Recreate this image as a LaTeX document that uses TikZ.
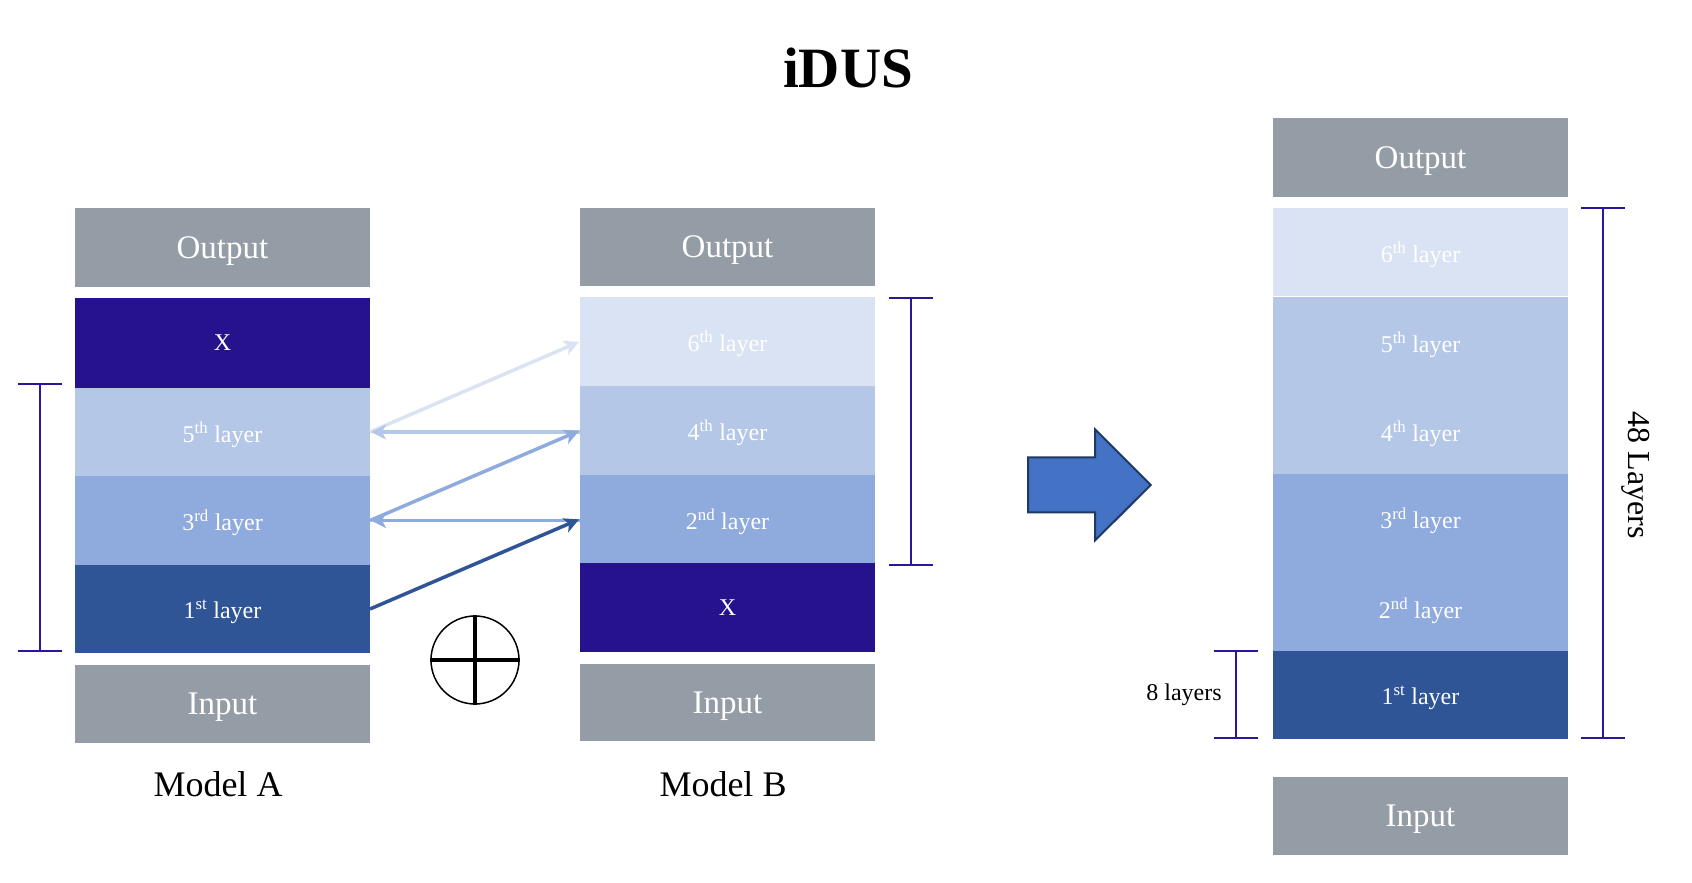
\documentclass[tikz,border=0pt]{standalone}
\usepackage{fontspec}
\setmainfont{Liberation Serif}
\usetikzlibrary{arrows.meta}
\definecolor{boxgray}{HTML}{949DA6}
\definecolor{xblue}{HTML}{25128C}
\definecolor{lsix}{HTML}{DAE3F3}
\definecolor{lfive}{HTML}{B4C7E7}
\definecolor{lthree}{HTML}{8FAADC}
\definecolor{lone}{HTML}{2F5597}
\definecolor{brk}{HTML}{2A1699}
\definecolor{bigarrow}{HTML}{4472C4}
\definecolor{bigarrowline}{HTML}{1F3864}
\begin{document}
\begin{tikzpicture}[x=1pt,y=-1pt,
  blk/.style={rectangle, inner sep=0pt, outer sep=0pt, minimum width=295pt, text=white, text depth=0pt, font=\fontsize{24}{28}\selectfont},
  io/.style={blk, fill=boxgray, font=\fontsize{33}{38}\selectfont},
  ltxt/.style={inner sep=0pt, text=white, text depth=0pt, font=\fontsize{24}{28}\selectfont},
  conn/.style={line width=3.5pt, -{Stealth[length=15pt,width=15pt,inset=4pt]}, shorten >=1pt},
  brkline/.style={draw=brk, line width=2pt},
  lbl/.style={font=\fontsize{36}{40}\selectfont, inner sep=0pt}
]
\useasboundingbox (0,0) rectangle (1692,883);

% title
\node[font=\fontsize{57}{60}\selectfont\bfseries, inner sep=0pt, text depth=0pt] (title) at (848,68) {iDUS};

% Model A
\node[io, minimum height=79pt] (aout) at (222.5,247.5) {Output};
\node[blk, fill=xblue, minimum height=90pt] (ax) at (222.5,343) {X};
\node[blk, fill=lfive, minimum height=88pt] (a5) at (222.5,432) {5\textsuperscript{th} layer};
\node[blk, fill=lthree, minimum height=89pt] (a3) at (222.5,520.5) {3\textsuperscript{rd} layer};
\node[blk, fill=lone, minimum height=88pt] (a1) at (222.5,609) {1\textsuperscript{st} layer};
\node[io, minimum height=77.5pt] (ain) at (222.5,703.75) {Input};
\node[lbl] (mA) at (218,784) {Model A};

% Model B
\node[io, minimum height=78pt] (bout) at (727.5,247) {Output};
\node[blk, fill=lsix, minimum height=89pt] (b6) at (727.5,341.5) {6\textsuperscript{th} layer};
\node[blk, fill=lfive, minimum height=89pt] (b4) at (727.5,430.5) {4\textsuperscript{th} layer};
\node[blk, fill=lthree, minimum height=88pt] (b2) at (727.5,519) {2\textsuperscript{nd} layer};
\node[blk, fill=xblue, minimum height=89pt] (bx) at (727.5,607.5) {X};
\node[io, minimum height=77pt] (bin) at (727.5,702.5) {Input};
\node[lbl] (mB) at (723,784) {Model B};

% connectors
\draw[conn, draw=lsix] (a5.east) -- (b6.west);
\draw[conn, draw=lfive] (a5.east -| b4.west) -- (a5.east);
\draw[conn, draw=lthree] (a3.east) -- (b4.west);
\draw[conn, draw=lthree] (a3.east -| b2.west) -- (a3.east);
\draw[conn, draw=lone] (a1.east) -- (b2.west);

% oplus
\node[circle, draw=black, line width=1.5pt, minimum size=88pt, inner sep=0pt] (oplus) at (475,660) {};
\draw[line width=4.5pt] (oplus.west) -- (oplus.east);
\draw[line width=4.5pt] (oplus.north) -- (oplus.south);

% brackets
\coordinate (bat) at (40,384); \coordinate (bab) at (40,651);
\draw[brkline] (bat) -- (bab);
\draw[brkline] ([xshift=-22pt]bat) -- ([xshift=22pt]bat);
\draw[brkline] ([xshift=-22pt]bab) -- ([xshift=22pt]bab);

\coordinate (bbt) at (911,298); \coordinate (bbb) at (911,565);
\draw[brkline] (bbt) -- (bbb);
\draw[brkline] ([xshift=-22pt]bbt) -- ([xshift=22pt]bbt);
\draw[brkline] ([xshift=-22pt]bbb) -- ([xshift=22pt]bbb);

% big arrow
\draw[fill=bigarrow, draw=bigarrowline, line width=2pt, line join=miter]
  (1028,457.3) -- (1095,457.3) -- (1095,429.3) -- (1150.7,485) -- (1095,540.5) -- (1095,512.3) -- (1028,512.3) -- cycle;

% right stack
\node[io, minimum height=79pt] (rout) at (1420.5,157.5) {Output};
\node[blk, fill=lsix, minimum height=88pt] (r6) at (1420.5,252) {6\textsuperscript{th} layer};
\node[blk, fill=lfive, minimum height=177pt] (r54) at (1420.5,385.5) {};
\node[ltxt] (r5) at (1420.5,342) {5\textsuperscript{th} layer};
\node[ltxt] (r4) at (1420.5,431) {4\textsuperscript{th} layer};
\node[blk, fill=lthree, minimum height=177pt] (r32) at (1420.5,562.5) {};
\node[ltxt] (r3) at (1420.5,518.5) {3\textsuperscript{rd} layer};
\node[ltxt] (r2) at (1420.5,608) {2\textsuperscript{nd} layer};
\node[blk, fill=lone, minimum height=88pt] (r1) at (1420.5,695) {1\textsuperscript{st} layer};
\node[io, minimum height=78pt] (rin) at (1420.5,816) {Input};

\coordinate (b48t) at (1603,208); \coordinate (b48b) at (1603,738);
\draw[brkline] (b48t) -- (b48b);
\draw[brkline] ([xshift=-22pt]b48t) -- ([xshift=22pt]b48t);
\draw[brkline] ([xshift=-22pt]b48b) -- ([xshift=22pt]b48b);
\node[font=\fontsize{32}{36}\selectfont, rotate=-90, inner sep=0pt] (l48) at (1636,475) {48 Layers};

\coordinate (b8t) at (1236,651); \coordinate (b8b) at (1236,738);
\draw[brkline] (b8t) -- (b8b);
\draw[brkline] ([xshift=-22pt]b8t) -- ([xshift=22pt]b8t);
\draw[brkline] ([xshift=-22pt]b8b) -- ([xshift=22pt]b8b);
\node[font=\fontsize{24}{28}\selectfont, inner sep=0pt, text depth=0pt] (l8) at (1184,692) {8 layers};
\end{tikzpicture}
\end{document}
